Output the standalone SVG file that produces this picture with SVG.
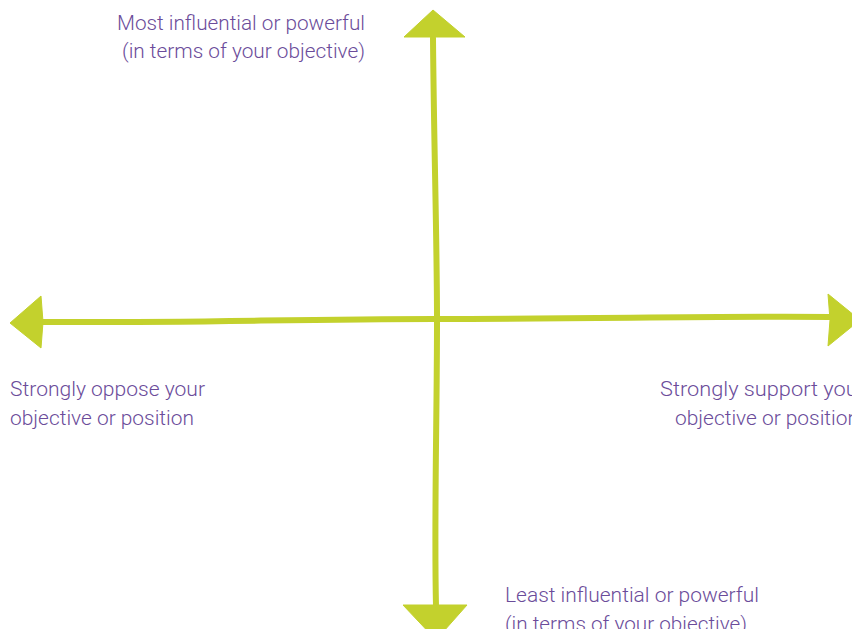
<svg xmlns="http://www.w3.org/2000/svg" width="852" height="629" viewBox="0 0 852 629">
<style>
.axis{fill:none;stroke:#c3d12d;stroke-width:6;stroke-linecap:round;stroke-linejoin:round}
.head{fill:#c3d12d;stroke:#c3d12d;stroke-width:1;stroke-linejoin:round}
.lbl{font-family:Roboto,"Liberation Sans",sans-serif;font-weight:300;font-size:20px;fill:#6b4c9a}
</style>
<rect width="852" height="629" fill="#ffffff"/>
<g id="connectors">
<path class="axis" d="M42,322 C180,323 300,319 434,319 C600,319 700,316 830,317"/>
<path class="axis" d="M433,38 C434,150 437,240 437,320 C437,420 434,520 436,606"/>
<polygon class="head" points="433,10 465,37 404,37"/>
<polygon class="head" points="403,605 467,605 436,640"/>
<polygon class="head" points="10,323 41,296 43,322 41,348"/>
<polygon class="head" points="828,294 860,320 828,346 830,320"/>
</g>
<g id="label-top">
<text class="lbl" x="365" y="30" text-anchor="end" textLength="248" lengthAdjust="spacingAndGlyphs">Most influential or powerful</text>
<text class="lbl" x="365" y="58" text-anchor="end" textLength="243" lengthAdjust="spacingAndGlyphs">(in terms of your objective)</text>
</g>
<g id="label-left">
<text class="lbl" x="10" y="396" textLength="195" lengthAdjust="spacingAndGlyphs">Strongly oppose your</text>
<text class="lbl" x="10" y="425" textLength="184" lengthAdjust="spacingAndGlyphs">objective or position</text>
</g>
<g id="label-right">
<text class="lbl" x="660" y="396" textLength="205" lengthAdjust="spacingAndGlyphs">Strongly support your</text>
<text class="lbl" x="675" y="425" textLength="184" lengthAdjust="spacingAndGlyphs">objective or position</text>
</g>
<g id="label-bottom">
<text class="lbl" x="505" y="602" textLength="254" lengthAdjust="spacingAndGlyphs">Least influential or powerful</text>
<text class="lbl" x="505" y="631" textLength="242" lengthAdjust="spacingAndGlyphs">(in terms of your objective)</text>
</g>
</svg>
